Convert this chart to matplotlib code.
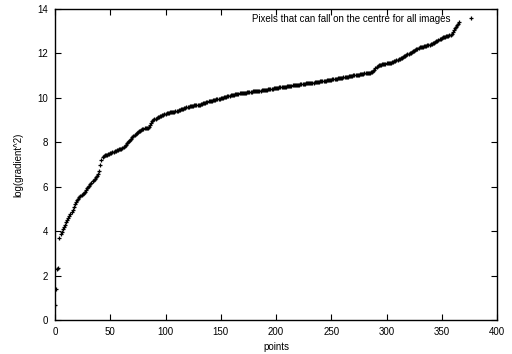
import numpy as np
import matplotlib
matplotlib.use('Agg')
import matplotlib.pyplot as plt

plt.rcParams['font.family'] = ['Liberation Sans', 'DejaVu Sans']

# log(gradient^2) per point (index = point number)
log_grad2 = [
    0.68, 1.40, 2.28, 2.32, 3.68, 3.85, 3.98, 4.08, 4.18, 4.28,
    4.40, 4.50, 4.61, 4.68, 4.76, 4.84, 4.96, 5.08, 5.20, 5.30,
    5.38, 5.45, 5.52, 5.58, 5.64, 5.68, 5.73, 5.78, 5.85, 5.93,
    6.00, 6.05, 6.12, 6.18, 6.24, 6.30, 6.36, 6.42, 6.50, 6.58,
    6.70, 6.98, 7.22, 7.33, 7.38, 7.41, 7.43, 7.45, 7.47, 7.49,
    7.51, 7.53, 7.56, 7.58, 7.60, 7.62, 7.64, 7.66, 7.68, 7.70,
    7.72, 7.74, 7.78, 7.84, 7.90, 7.96, 8.02, 8.07, 8.12, 8.17,
    8.22, 8.27, 8.32, 8.37, 8.41, 8.45, 8.49, 8.53, 8.57, 8.60,
    8.62, 8.63, 8.63, 8.64, 8.65, 8.68, 8.76, 8.86, 8.94, 9.00,
    9.04, 9.07, 9.10, 9.13, 9.15, 9.17, 9.19, 9.21, 9.23, 9.26,
    9.29, 9.31, 9.33, 9.34, 9.35, 9.36, 9.37, 9.38, 9.38, 9.39,
    9.40, 9.42, 9.44, 9.46, 9.48, 9.50, 9.52, 9.54, 9.56, 9.58,
    9.60, 9.61, 9.62, 9.63, 9.64, 9.65, 9.66, 9.66, 9.67, 9.67,
    9.68, 9.69, 9.71, 9.73, 9.75, 9.77, 9.79, 9.81, 9.82, 9.84,
    9.85, 9.86, 9.88, 9.89, 9.90, 9.92, 9.93, 9.94, 9.96, 9.97,
    9.98, 10.00, 10.01, 10.03, 10.04, 10.06, 10.07, 10.08, 10.10, 10.11,
    10.12, 10.13, 10.15, 10.16, 10.17, 10.18, 10.19, 10.20, 10.21, 10.22,
    10.22, 10.23, 10.24, 10.24, 10.25, 10.26, 10.27, 10.27, 10.28, 10.29,
    10.29, 10.30, 10.31, 10.31, 10.32, 10.33, 10.33, 10.34, 10.35, 10.35,
    10.36, 10.37, 10.37, 10.38, 10.39, 10.40, 10.41, 10.42, 10.43, 10.43,
    10.44, 10.45, 10.46, 10.47, 10.48, 10.48, 10.49, 10.50, 10.51, 10.51,
    10.52, 10.53, 10.54, 10.54, 10.55, 10.56, 10.57, 10.57, 10.58, 10.59,
    10.60, 10.60, 10.61, 10.62, 10.63, 10.63, 10.64, 10.65, 10.65, 10.66,
    10.66, 10.67, 10.68, 10.69, 10.69, 10.70, 10.71, 10.72, 10.72, 10.73,
    10.74, 10.75, 10.76, 10.76, 10.77, 10.78, 10.79, 10.79, 10.80, 10.81,
    10.82, 10.83, 10.84, 10.85, 10.86, 10.87, 10.88, 10.89, 10.90, 10.91,
    10.91, 10.92, 10.93, 10.94, 10.95, 10.96, 10.97, 10.98, 10.99, 11.00,
    11.01, 11.02, 11.03, 11.04, 11.05, 11.05, 11.06, 11.07, 11.08, 11.09,
    11.10, 11.10, 11.11, 11.12, 11.13, 11.14, 11.15, 11.17, 11.20, 11.26,
    11.34, 11.41, 11.45, 11.47, 11.49, 11.50, 11.51, 11.52, 11.53, 11.54,
    11.55, 11.55, 11.56, 11.57, 11.59, 11.61, 11.63, 11.65, 11.67, 11.69,
    11.71, 11.73, 11.75, 11.78, 11.81, 11.84, 11.87, 11.90, 11.93, 11.96,
    11.99, 12.02, 12.04, 12.07, 12.10, 12.13, 12.16, 12.19, 12.22, 12.25,
    12.28, 12.29, 12.30, 12.31, 12.32, 12.33, 12.34, 12.36, 12.37, 12.39,
    12.41, 12.43, 12.46, 12.49, 12.52, 12.55, 12.58, 12.61, 12.64, 12.67,
    12.70, 12.72, 12.74, 12.76, 12.77, 12.78, 12.80, 12.82, 12.85, 12.88,
    12.98, 13.06, 13.14, 13.21, 13.27, 13.33, 13.40,
]
points = np.arange(len(log_grad2))

x_ticks = [0, 50, 100, 150, 200, 250, 300, 350, 400]
y_ticks = [0, 2, 4, 6, 8, 10, 12, 14]
series_label = 'Pixels that can fall on the centre for all images'

fig = plt.figure(figsize=(5.12, 3.54), dpi=100)
ax = fig.add_axes([55/512, 1 - 320/354, 442/512, 311/354])

ax.plot(points, log_grad2, linestyle='none', marker='+', color='black',
        markersize=3.5, markeredgewidth=0.9, label=series_label)

ax.set_xlim(0, 400)
ax.set_ylim(0, 14)
ax.set_xticks(x_ticks)
ax.set_yticks(y_ticks)
ax.tick_params(direction='in', length=4, width=0.8, labelsize=7,
               top=True, right=True, pad=5, colors='black')
for s in ax.spines.values():
    s.set_linewidth(1.0)

ax.set_xlabel('points', fontsize=7, labelpad=4)
ax.set_ylabel('log(gradient^2)', fontsize=7, labelpad=10)

ax.legend(loc='upper right', frameon=False, markerfirst=False, fontsize=7,
          handlelength=1.0, handletextpad=1.6, borderaxespad=0.1,
          bbox_to_anchor=(0.964, 1.0))

fig.savefig('out.png', dpi=100)
